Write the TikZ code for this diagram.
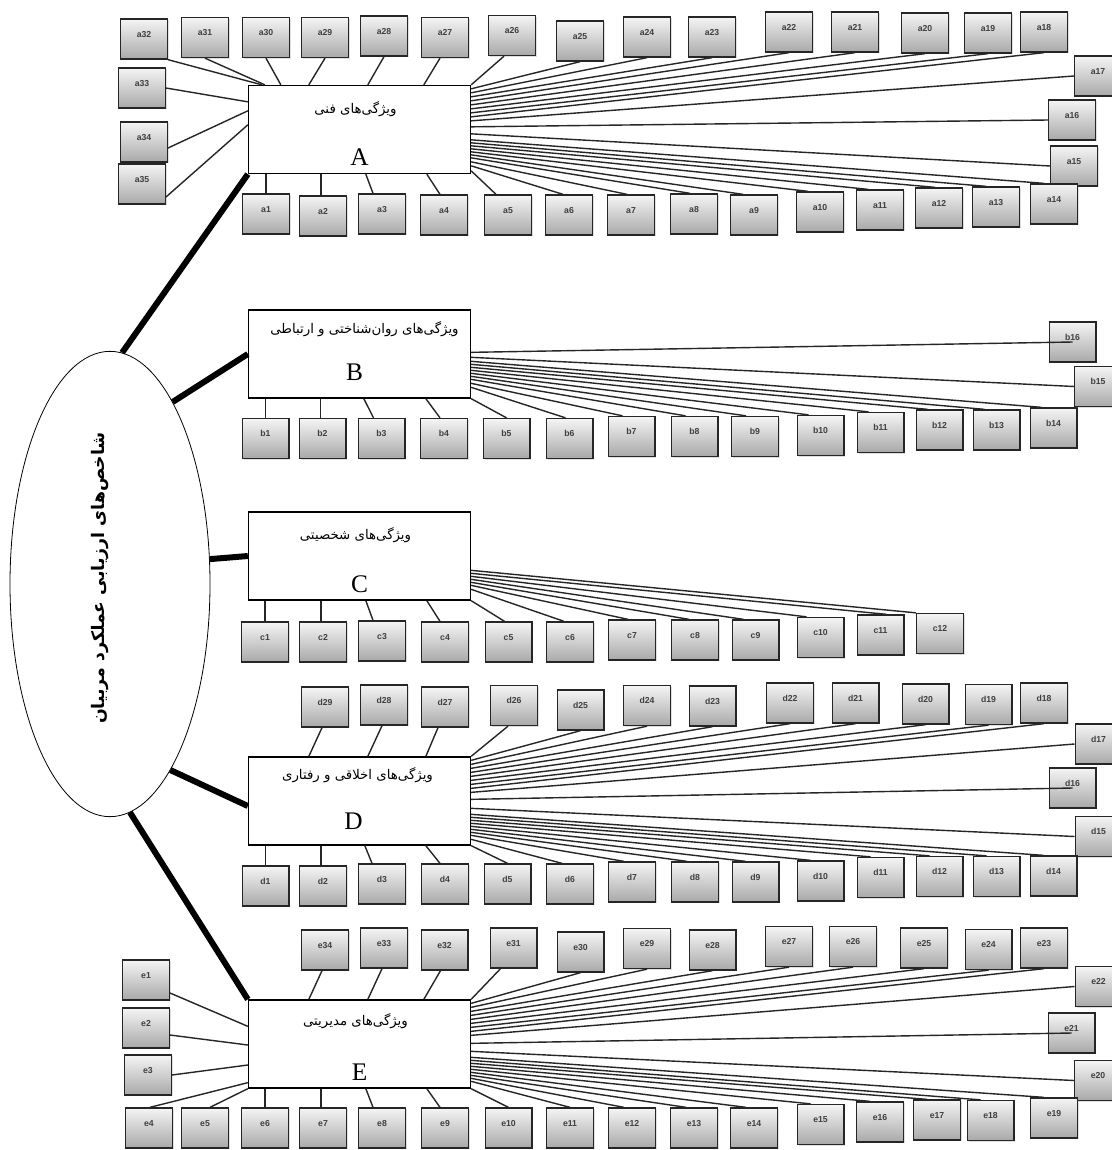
\documentclass[tikz,border=0pt]{standalone}
\usepackage{fontspec}
\setmainfont{Liberation Serif}
\newfontfamily\arabicfont[Script=Arabic]{DejaVu Sans}
\newfontfamily\labfont{Liberation Sans}
\usetikzlibrary{calc,shapes.geometric,shadows}
\TeXXeTstate=1
\newcommand\sbx[2]{\node[smbox] (#1) at (#2) {\raisebox{7pt}{#1}\hspace{6pt}};}
\newcommand\fanln[3]{\draw[ln] ($(#1.north east)+(0,#2)$) -- (#3);}
\tikzset{
 smbox/.style={draw=black!85, line width=1pt, top color=black!4, bottom color=black!34,
   minimum width=35pt, minimum height=30pt, inner sep=0pt,
   font=\labfont\fontsize{6.5}{7}\selectfont\bfseries, text=black!75,
   drop shadow={opacity=0.25, shadow xshift=1pt, shadow yshift=-1pt}},
 mainbox/.style={draw, line width=1pt, fill=white, minimum width=166.5pt, minimum height=66pt, inner sep=0pt},
 ln/.style={line width=1.05pt, black!85},
 thk/.style={line width=4.5pt},
 ptext/.style={font=\arabicfont\fontsize{10}{12}\selectfont, inner sep=0pt},
 big/.style={font=\fontsize{19}{20}\selectfont, inner sep=0pt},
}
\begin{document}
\begin{tikzpicture}[x=0.75pt,y=-0.75pt]
\path[use as bounding box, fill=white] (0,0) rectangle (1112,1150);

% ---------- central ellipse ----------
\node[draw, ellipse, line width=0.6pt, minimum width=150pt, minimum height=349pt, inner sep=0pt] (ell) at (110,584) {};
\node[rotate=90, font=\arabicfont\bfseries\fontsize{13}{14}\selectfont, inner sep=0pt] (elltext) at ($(ell.center)+(-10,-6)$) {\beginR شاخص^^^^200cهای ارزیابی عملکرد مربیان\endR};

% ---------- main boxes ----------
\node[mainbox] (A) at (359.5,129.5) {};
\node[mainbox] (B) at (359.5,354) {};
\node[mainbox] (C) at (359.5,556) {};
\node[mainbox] (D) at (359.5,801) {};
\node[mainbox] (E) at (359.5,1044) {};

\node[ptext] (At) at ($(A.north)+(-4,24)$) {\beginR ویژگی^^^^200cهای فنی\endR};
\node[big] (Al) at ($(A.south)+(0,-17)$) {A};
\node[ptext] (Bt) at ($(B.north)+(5,20)$) {\beginR ویژگی^^^^200cهای روان^^^^200cشناختی و ارتباطی\endR};
\node[big] (Bl) at ($(B.south)+(-5,-26)$) {B};
\node[ptext] (Ct) at ($(C.north)+(-4,24)$) {\beginR ویژگی^^^^200cهای شخصیتی\endR};
\node[big] (Cl) at ($(C.south)+(0,-16)$) {C};
\node[ptext] (Dt) at ($(D.north)+(-2,19)$) {\beginR ویژگی^^^^200cهای اخلاقی و رفتاری\endR};
\node[big] (Dl) at ($(D.south)+(-6,-24)$) {D};
\node[ptext] (Et) at ($(E.north)+(-4,22)$) {\beginR ویژگی^^^^200cهای مدیریتی\endR};
\node[big] (El) at ($(E.south)+(0,-16)$) {E};

% ---------- thick links ----------
\draw[thk] (ell.87.5) -- (A.south west);
\draw[thk] (ell.71.9) -- (B.west);
\draw[thk] (ell.14.6) -- (C.west);
\draw[thk] (ell.-72.3) -- ($(D.west)+(0,5)$);
\draw[thk] (ell.-85.5) -- (E.north west);

% ---------- section A boxes ----------
\sbx{a32}{144,39}
\sbx{a31}{205,37.5}
\sbx{a30}{266,37.5}
\sbx{a29}{325,37.5}
\sbx{a28}{384,36}
\sbx{a27}{445,37.5}
\sbx{a26}{512,35.5}
\sbx{a25}{580,41}
\sbx{a24}{647,37}
\sbx{a23}{712,37}
\sbx{a22}{789,32}
\sbx{a21}{855,32}
\sbx{a20}{925,33}
\sbx{a19}{988,33}
\sbx{a18}{1044,32}
\sbx{a17}{1098,76}
\sbx{a16}{1072,120}
\sbx{a15}{1074,166}
\sbx{a14}{1054,204}
\sbx{a13}{996,207}
\sbx{a12}{939,208}
\sbx{a11}{880,210}
\sbx{a10}{820,212}
\sbx{a9}{754,215}
\sbx{a8}{694,214}
\sbx{a7}{631,215}
\sbx{a6}{569,215}
\sbx{a5}{508,215}
\sbx{a4}{444,215}
\sbx{a3}{382,214}
\sbx{a2}{323,216}
\sbx{a1}{266,214}
\sbx{a33}{142,88}
\sbx{a34}{144,142}
\sbx{a35}{142,184}

% ---------- section B boxes ----------
\sbx{b1}{265.5,438.5}
\sbx{b2}{322.5,438.5}
\sbx{b3}{381.5,438.5}
\sbx{b4}{444,438.5}
\sbx{b5}{506.5,438.5}
\sbx{b6}{569.5,438.5}
\sbx{b7}{631.5,436.5}
\sbx{b8}{694.5,436.5}
\sbx{b9}{755,436.5}
\sbx{b10}{820.5,435.5}
\sbx{b11}{880.5,432.5}
\sbx{b12}{939.5,430}
\sbx{b13}{996.5,430}
\sbx{b14}{1053.5,428}
\sbx{b15}{1098,386.5}
\sbx{b16}{1072.5,342}

% ---------- section C boxes ----------
\sbx{c1}{265,642}
\sbx{c2}{323,642}
\sbx{c3}{382,641}
\sbx{c4}{445,642}
\sbx{c5}{508.5,642}
\sbx{c6}{570,642}
\sbx{c7}{632,640}
\sbx{c8}{695,640}
\sbx{c9}{755.5,640}
\sbx{c10}{820.5,637.5}
\sbx{c11}{880.5,635}
\sbx{c12}{940,633.5}

% ---------- section D boxes ----------
\sbx{d29}{325,707}
\sbx{d28}{384,705}
\sbx{d27}{445,707}
\sbx{d26}{514,705.5}
\sbx{d25}{580.5,710}
\sbx{d24}{647,705.5}
\sbx{d23}{712.5,706}
\sbx{d22}{790,703}
\sbx{d21}{855.5,703}
\sbx{d20}{925.5,704}
\sbx{d19}{988.5,704.5}
\sbx{d18}{1044,703}
\sbx{d17}{1098.5,744}
\sbx{d16}{1072.5,788}
\sbx{d15}{1098.5,836.5}
\sbx{d14}{1053.5,876}
\sbx{d13}{996.5,876.5}
\sbx{d12}{939.5,876.5}
\sbx{d11}{880.5,877.5}
\sbx{d10}{820.5,881}
\sbx{d9}{755.5,882}
\sbx{d8}{695,882}
\sbx{d7}{632,882}
\sbx{d6}{570,884}
\sbx{d5}{507.5,884}
\sbx{d4}{445,884}
\sbx{d3}{382,884}
\sbx{d2}{323,886}
\sbx{d1}{265.5,886}

% ---------- section E boxes ----------
\sbx{e34}{325,950}
\sbx{e33}{384,948}
\sbx{e32}{444.5,950}
\sbx{e31}{513.5,948}
\sbx{e30}{580.5,952}
\sbx{e29}{647,948.5}
\sbx{e28}{712.5,950}
\sbx{e27}{789,946.5}
\sbx{e26}{853,946.5}
\sbx{e25}{924,948}
\sbx{e24}{988.5,949.5}
\sbx{e23}{1044,948}
\sbx{e22}{1098.5,986.5}
\sbx{e21}{1071.5,1033}
\sbx{e20}{1098,1080.5}
\sbx{e19}{1054,1118}
\sbx{e18}{990.5,1120.5}
\sbx{e17}{937,1120}
\sbx{e16}{880,1122}
\sbx{e15}{820.5,1124.5}
\sbx{e14}{754,1128}
\sbx{e13}{694,1128}
\sbx{e12}{632,1128}
\sbx{e11}{570,1128}
\sbx{e10}{508.5,1128}
\sbx{e9}{445,1128}
\sbx{e8}{382,1128}
\sbx{e7}{323,1128}
\sbx{e6}{265,1128}
\sbx{e5}{205,1128}
\sbx{e4}{149,1128}
\sbx{e1}{146,980}
\sbx{e2}{146,1028}
\sbx{e3}{148,1075}

% ---------- A links ----------
\draw[ln] (a32.south east) -- ($(A.north west)+(14,0)$);
\draw[ln] (a31.south) -- ($(A.north west)+(17,0)$);
\draw[ln] (a30.south) -- ($(A.north west)+(33,0)$);
\draw[ln] (a29.south) -- ($(A.north west)+(61,0)$);
\draw[ln] (a28.south) -- ($(A.north west)+(120,0)$);
\draw[ln] ($(a27.south)+(-5,0)$) -- ($(A.north west)+(176,0)$);
\draw[ln] ($(a26.south)+(-8,0)$) -- (A.north east);
\draw[ln] (a33.east) -- ($(A.north west)+(0,17)$);
\draw[ln] ($(a34.east)+(0,6)$) -- ($(A.north west)+(0,26)$);
\draw[ln] ($(a35.east)+(0,13)$) -- ($(A.north west)+(0,40)$);
\fanln{A}{4}{a25.south}
\fanln{A}{8}{a24.south}
\fanln{A}{12}{a23.south}
\fanln{A}{16}{a22.south}
\fanln{A}{20}{a21.south}
\fanln{A}{24}{a20.south}
\fanln{A}{28}{a19.south}
\fanln{A}{32}{a18.south}
\fanln{A}{36}{a17.west}
\fanln{A}{42}{a16.west}
\fanln{A}{49}{a15.west}
\fanln{A}{55}{$(a14.north west)+(14,0)$}
\fanln{A}{58}{$(a13.north west)+(14,0)$}
\fanln{A}{61}{$(a12.north west)+(20,0)$}
\fanln{A}{64}{$(a11.north west)+(12,0)$}
\fanln{A}{67}{$(a10.north west)+(12,0)$}
\fanln{A}{70}{$(a9.north west)+(13,0)$}
\fanln{A}{73}{$(a8.north west)+(20,0)$}
\fanln{A}{77}{$(a7.north west)+(20,0)$}
\fanln{A}{81}{$(a6.north west)+(18,0)$}
\fanln{A}{86}{$(a5.north west)+(12,0)$}
\draw[ln] (a1.north) -- (a1.north |- A.south);
\draw[ln] ($(a2.north)+(-2,0)$) -- ($(a2.north |- A.south)+(-2,0)$);
\draw[ln] ($(A.south west)+(118,0)$) -- ($(a3.north)+(-9,0)$);
\draw[ln] ($(A.south west)+(179,0)$) -- ($(a4.north)+(-4,0)$);

% ---------- B links ----------
\draw[ln] (b1.north) -- (b1.north |- B.south);
\draw[ln] ($(b2.north)+(-2,0)$) -- ($(b2.north |- B.south)+(-2,0)$);
\draw[ln] ($(B.south west)+(116,0)$) -- ($(b3.north)+(-8,0)$);
\draw[ln] ($(B.south west)+(178,0)$) -- ($(b4.north)+(-4,0)$);
\draw[ln] (B.south east) -- (b5.north);
\fanln{B}{78}{$(b6.north west)+(20,0)$}
\fanln{B}{74}{$(b7.north west)+(15,0)$}
\fanln{B}{70}{$(b8.north west)+(15,0)$}
\fanln{B}{67}{$(b9.north west)+(15,0)$}
\fanln{B}{64}{$(b10.north west)+(12,0)$}
\fanln{B}{61}{$(b11.north west)+(12,0)$}
\fanln{B}{58}{$(b12.north west)+(12,0)$}
\fanln{B}{55}{$(b13.north west)+(12,0)$}
\fanln{B}{52}{$(b14.north west)+(12,0)$}
\fanln{B}{48}{b15.west}
\fanln{B}{43}{b16.center}

% ---------- C links ----------
\draw[ln] (c1.north) -- (c1.north |- C.south);
\draw[ln] ($(c2.north)+(-2,0)$) -- ($(c2.north |- C.south)+(-2,0)$);
\draw[ln] ($(C.south west)+(118,0)$) -- ($(c3.north)+(-9,0)$);
\draw[ln] ($(C.south west)+(179,0)$) -- ($(c4.north)+(-5,0)$);
\draw[ln] (C.south east) -- ($(c5.north west)+(20,0)$);
\fanln{C}{78}{$(c6.north west)+(18,0)$}
\fanln{C}{74}{$(c7.north west)+(20,0)$}
\fanln{C}{71}{$(c8.north west)+(18,0)$}
\fanln{C}{68}{$(c9.north west)+(12,0)$}
\fanln{C}{65}{$(c10.north west)+(10,0)$}
\fanln{C}{62}{$(c11.north west)+(30,0)$}
\fanln{C}{59}{c12.north west}

% ---------- D links ----------
\draw[ln] ($(d29.south)+(-3,0)$) -- ($(D.north west)+(61,0)$);
\draw[ln] ($(d28.south)+(-2,0)$) -- ($(D.north west)+(120,0)$);
\draw[ln] ($(d27.south)+(-7,0)$) -- ($(D.north west)+(178,0)$);
\draw[ln] ($(d26.south)+(-6,0)$) -- (D.north east);
\fanln{D}{4}{d25.south}
\fanln{D}{8}{d24.south}
\fanln{D}{12}{d23.south}
\fanln{D}{16}{d22.south}
\fanln{D}{20}{d21.south}
\fanln{D}{24}{d20.south}
\fanln{D}{28}{d19.south}
\fanln{D}{32}{d18.south}
\fanln{D}{36}{d17.west}
\fanln{D}{43}{d16.center}
\fanln{D}{52}{d15.west}
\fanln{D}{58}{$(d14.north west)+(14,0)$}
\fanln{D}{61}{$(d13.north west)+(14,0)$}
\fanln{D}{64}{$(d12.north west)+(14,0)$}
\fanln{D}{67}{$(d11.north west)+(14,0)$}
\fanln{D}{70}{$(d10.north west)+(14,0)$}
\fanln{D}{73}{$(d9.north west)+(14,0)$}
\fanln{D}{76}{$(d8.north west)+(16,0)$}
\fanln{D}{79}{$(d7.north west)+(16,0)$}
\fanln{D}{83}{$(d6.north west)+(16,0)$}
\draw[ln] (D.south east) -- (d5.north);
\draw[ln] (d1.north) -- (d1.north |- D.south);
\draw[ln] ($(d2.north)+(-2,0)$) -- ($(d2.north |- D.south)+(-2,0)$);
\draw[ln] ($(D.south west)+(117,0)$) -- ($(d3.north)+(-10,0)$);
\draw[ln] ($(D.south west)+(178,0)$) -- ($(d4.north)+(-5,0)$);

% ---------- E links ----------
\draw[ln] ($(e34.south)+(-3,0)$) -- ($(E.north west)+(61,0)$);
\draw[ln] ($(e33.south)+(-2,0)$) -- ($(E.north west)+(120,0)$);
\draw[ln] ($(e32.south)+(-4,0)$) -- ($(E.north west)+(176,0)$);
\draw[ln] ($(e31.south)+(-13,0)$) -- (E.north east);
\fanln{E}{4}{e30.south}
\fanln{E}{8}{e29.south}
\fanln{E}{12}{e28.south}
\fanln{E}{16}{e27.south}
\fanln{E}{20}{e26.south}
\fanln{E}{24}{e25.south}
\fanln{E}{28}{e24.south}
\fanln{E}{32}{e23.south}
\fanln{E}{36}{e22.west}
\fanln{E}{44}{e21.center}
\fanln{E}{52}{e20.west}
\fanln{E}{58}{$(e19.north west)+(14,0)$}
\fanln{E}{61}{$(e18.north west)+(14,0)$}
\fanln{E}{64}{$(e17.north west)+(14,0)$}
\fanln{E}{67}{$(e16.north west)+(14,0)$}
\fanln{E}{70}{$(e15.north west)+(14,0)$}
\fanln{E}{73}{$(e14.north west)+(16,0)$}
\fanln{E}{76}{$(e13.north west)+(16,0)$}
\fanln{E}{79}{$(e12.north west)+(16,0)$}
\fanln{E}{82}{e11.north}
\draw[ln] (E.south east) -- (e10.north);
\draw[ln] ($(E.south west)+(179,0)$) -- ($(e9.north)+(-5,0)$);
\draw[ln] ($(E.south west)+(118,0)$) -- ($(e8.north)+(-9,0)$);
\draw[ln] ($(e7.north)+(-2,0)$) -- ($(e7.north |- E.south)+(-2,0)$);
\draw[ln] (e6.north) -- (e6.north |- E.south);
\draw[ln] ($(e5.north)+(5,0)$) -- (E.south west);
\draw[ln] ($(e4.north)+(1,0)$) -- ($(E.south west)+(0,-6)$);
\draw[ln] (e3.east) -- ($(E.west)+(0,21)$);
\draw[ln] ($(e2.east)+(0,7)$) -- ($(E.west)+(0,1)$);
\draw[ln] ($(e1.east)+(0,13)$) -- ($(E.north west)+(0,27)$);
\end{tikzpicture}
\end{document}
